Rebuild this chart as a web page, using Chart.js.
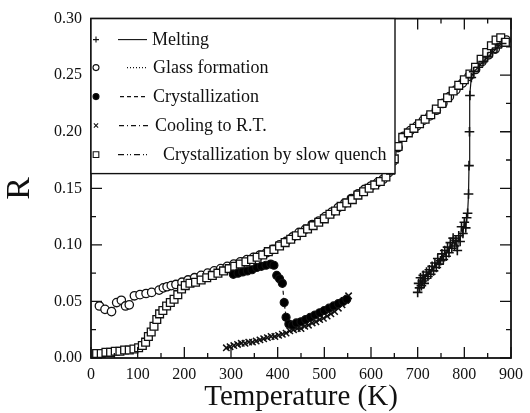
<!DOCTYPE html>
<html>
<head>
<meta charset="utf-8">
<script src="https://cdn.jsdelivr.net/npm/chart.js@4/dist/chart.umd.min.js"></script>
<style>
  html, body { margin: 0; padding: 0; background: #fff; }
  #c { display: block; }
</style>
</head>
<body>
<canvas id="c" width="530" height="413"></canvas>
<script>
// Axis tick labels
const xTickLabels = [0, 100, 200, 300, 400, 500, 600, 700, 800, 900];
const yTickLabels = [0.00, 0.05, 0.10, 0.15, 0.20, 0.25, 0.30];

// Series names (legend order)
const seriesNames = ['Melting', 'Glass formation', 'Crystallization', 'Cooling to R.T.', 'Crystallization by slow quench'];

// Melting (+)
const meltT = [700, 702, 704, 706, 708, 710, 712, 714, 716, 719,
               722, 725, 728, 731, 734, 737, 740, 743, 746, 749,
               752, 755, 758, 761, 764, 767, 770, 773, 776, 779,
               782, 785, 788, 791, 794, 797, 800, 803, 805, 807,
               809, 810, 811, 812, 815, 820, 830, 840, 850, 860,
               870, 880];
const meltR = [0.058, 0.066, 0.062, 0.071, 0.064, 0.068, 0.073, 0.066, 0.070, 0.076,
               0.072, 0.078, 0.074, 0.081, 0.077, 0.084, 0.080, 0.088, 0.083, 0.086,
               0.092, 0.087, 0.095, 0.090, 0.098, 0.093, 0.102, 0.097, 0.106, 0.099,
               0.104, 0.095, 0.108, 0.103, 0.116, 0.110, 0.120, 0.115, 0.124, 0.128,
               0.145, 0.170, 0.200, 0.232, 0.248, 0.253, 0.257, 0.262, 0.266, 0.270,
               0.274, 0.278];

// Glass formation (open circles)
const glassT = [18, 30, 44, 55, 65, 74, 82, 93, 105, 118,
                130, 146, 155, 163, 172, 182, 195, 208, 222, 236,
                250, 264, 278, 292, 306, 320, 334, 348, 362, 376,
                390, 404, 418, 432, 446, 460, 474, 488, 502, 516,
                530, 544, 558, 572, 586, 600, 614, 626, 638, 648,
                658, 670, 684, 698, 712, 726, 740, 754, 768, 782,
                796, 810, 824, 838, 852, 866, 880, 890];
const glassR = [0.046, 0.043, 0.041, 0.049, 0.051, 0.046, 0.047, 0.055, 0.056, 0.057,
                0.058, 0.060, 0.062, 0.063, 0.064, 0.065, 0.067, 0.069, 0.071, 0.073,
                0.075, 0.077, 0.079, 0.081, 0.083, 0.085, 0.087, 0.089, 0.091, 0.093,
                0.096, 0.100, 0.103, 0.107, 0.111, 0.114, 0.118, 0.121, 0.125, 0.129,
                0.133, 0.137, 0.141, 0.145, 0.149, 0.152, 0.155, 0.158, 0.164, 0.174,
                0.186, 0.196, 0.201, 0.205, 0.210, 0.214, 0.219, 0.225, 0.231, 0.237,
                0.243, 0.249, 0.255, 0.262, 0.268, 0.273, 0.279, 0.281];

// Crystallization (filled circles)
const crystT = [305, 315, 325, 335, 345, 355, 365, 375, 385, 392,
                398, 404, 410, 414, 418, 424, 432, 440, 450, 460,
                470, 480, 490, 500, 510, 520, 530, 540, 548];
const crystR = [0.074, 0.075, 0.076, 0.077, 0.078, 0.080, 0.081, 0.082, 0.083, 0.082,
                0.073, 0.070, 0.066, 0.049, 0.036, 0.030, 0.029, 0.031, 0.032, 0.034,
                0.036, 0.038, 0.040, 0.042, 0.044, 0.046, 0.048, 0.050, 0.052];

// Cooling to R.T. (x)
const coolT = [290, 298, 306, 314, 322, 330, 338, 346, 354, 362,
               370, 378, 386, 394, 402, 410, 418, 426, 434, 442,
               450, 458, 466, 474, 482, 490, 498, 506, 514, 522,
               530, 538, 546, 552];
const coolR = [0.009, 0.010, 0.011, 0.012, 0.013, 0.013, 0.014, 0.014, 0.015, 0.016,
               0.017, 0.018, 0.019, 0.019, 0.020, 0.021, 0.022, 0.024, 0.025, 0.026,
               0.026, 0.028, 0.029, 0.031, 0.032, 0.034, 0.035, 0.037, 0.039, 0.041,
               0.044, 0.047, 0.051, 0.055];

// Crystallization by slow quench (open squares)
const quenchT = [12, 22, 32, 42, 52, 62, 72, 82, 92, 102,
                 110, 117, 123, 129, 135, 141, 147, 154, 162, 170,
                 178, 186, 194, 202, 212, 224, 236, 248, 260, 272,
                 284, 296, 308, 320, 332, 344, 356, 368, 380, 392,
                 404, 416, 428, 440, 452, 464, 476, 488, 500, 512,
                 524, 536, 548, 560, 572, 584, 596, 608, 620, 632,
                 642, 650, 658, 668, 680, 692, 704, 716, 728, 740,
                 752, 764, 776, 788, 800, 812, 824, 836, 848, 858,
                 868, 878, 888];
const quenchR = [0.004, 0.004, 0.005, 0.005, 0.006, 0.006, 0.007, 0.007, 0.008, 0.009,
                 0.011, 0.014, 0.019, 0.023, 0.028, 0.034, 0.039, 0.042, 0.046, 0.049,
                 0.052, 0.056, 0.061, 0.064, 0.066, 0.067, 0.069, 0.071, 0.073, 0.075,
                 0.077, 0.079, 0.081, 0.083, 0.085, 0.087, 0.089, 0.091, 0.094, 0.096,
                 0.099, 0.102, 0.105, 0.108, 0.111, 0.114, 0.117, 0.120, 0.123, 0.127,
                 0.130, 0.134, 0.137, 0.140, 0.144, 0.147, 0.150, 0.153, 0.156, 0.160,
                 0.166, 0.176, 0.187, 0.195, 0.199, 0.203, 0.207, 0.211, 0.215, 0.220,
                 0.225, 0.230, 0.236, 0.241, 0.246, 0.251, 0.257, 0.264, 0.270, 0.276,
                 0.281, 0.283, 0.279];

const SERIF = '"Liberation Serif", "DejaVu Serif", serif';
const pairs = (xs, ys) => xs.map((x, i) => ({ x: x, y: ys[i] }));

// Per-series look: marker, fill, dash pattern
const styles = [
  { point: 'cross',    radius: 4.8, fill: '#000', dash: [],                 bw: 1.6 },
  { point: 'circle',   radius: 4.2, fill: '#fff', dash: [1, 2],             bw: 1.3 },
  { point: 'circle',   radius: 4.0, fill: '#000', dash: [4, 3],             bw: 1.2 },
  { point: 'crossRot', radius: 4.5, fill: '#000', dash: [5, 3, 1, 3],       bw: 1.5 },
  { point: 'rect',     radius: 5.5, fill: '#fff', dash: [6, 3, 1, 2, 1, 3], bw: 1.3 }
];
const seriesData = [
  pairs(meltT, meltR),
  pairs(glassT, glassR),
  pairs(crystT, crystR),
  pairs(coolT, coolR),
  pairs(quenchT, quenchR)
];
const drawOrder = [0, 4, 1, 2, 3];

const datasets = seriesData.map((d, i) => ({
  label: seriesNames[i],
  data: d,
  order: drawOrder[i],
  showLine: true,
  borderColor: '#111',
  borderWidth: 1.2,
  borderDash: styles[i].dash,
  pointStyle: styles[i].point,
  pointRadius: styles[i].radius,
  pointBorderWidth: styles[i].bw,
  pointBackgroundColor: styles[i].fill,
  pointBorderColor: '#111',
  fill: false,
  tension: 0
}));

// Frame and inward tick marks on all four sides
const framePlugin = {
  id: 'frame',
  afterDatasetsDraw(chart) {
    const { ctx, chartArea: a, scales: { x, y } } = chart;
    ctx.save();
    ctx.strokeStyle = '#111';
    ctx.lineWidth = 1.3;
    ctx.beginPath();
    for (let i = 0; i < xTickLabels.length; i++) {
      const v = xTickLabels[i];
      const px = x.getPixelForValue(v);
      ctx.moveTo(px, a.bottom); ctx.lineTo(px, a.bottom - 11);
      ctx.moveTo(px, a.top); ctx.lineTo(px, a.top + 11);
      if (i < xTickLabels.length - 1) {
        const pm = x.getPixelForValue((v + xTickLabels[i + 1]) / 2);
        ctx.moveTo(pm, a.bottom); ctx.lineTo(pm, a.bottom - 5);
        ctx.moveTo(pm, a.top); ctx.lineTo(pm, a.top + 5);
      }
    }
    for (let i = 0; i < yTickLabels.length; i++) {
      const v = yTickLabels[i];
      const py = y.getPixelForValue(v);
      ctx.moveTo(a.left, py); ctx.lineTo(a.left + 11, py);
      ctx.moveTo(a.right, py); ctx.lineTo(a.right - 11, py);
      if (i < yTickLabels.length - 1) {
        const pm = y.getPixelForValue((v + yTickLabels[i + 1]) / 2);
        ctx.moveTo(a.left, pm); ctx.lineTo(a.left + 5, pm);
        ctx.moveTo(a.right, pm); ctx.lineTo(a.right - 5, pm);
      }
    }
    ctx.stroke();
    ctx.lineWidth = 1.8;
    ctx.strokeRect(a.left, a.top, a.right - a.left, a.bottom - a.top);
    ctx.restore();
  }
};

// Boxed key in the upper-left corner of the plot
const keyPlugin = {
  id: 'key',
  afterDatasetsDraw(chart) {
    const { ctx, chartArea: a } = chart;
    const left = a.left, top = a.top, w = 304, h = 155;
    ctx.save();
    ctx.fillStyle = '#fff';
    ctx.fillRect(left, top, w, h);
    ctx.strokeStyle = '#111';
    ctx.lineWidth = 1.4;
    ctx.strokeRect(left, top, w, h);
    const rows = [21, 49, 78, 107, 136];
    const lineSpan = [[27, 56], [36, 57], [29, 57], [28, 59], [27, 59]];
    const textX = [61, 62, 62, 64, 72];
    ctx.font = '18px ' + SERIF;
    ctx.textBaseline = 'middle';
    ctx.textAlign = 'left';
    for (let i = 0; i < seriesNames.length; i++) {
      const yy = top + rows[i];
      const st = styles[i];
      ctx.fillStyle = st.fill;
      ctx.strokeStyle = '#111';
      ctx.lineWidth = 1.1;
      Chart.helpers.drawPoint(ctx, { pointStyle: st.point, radius: st.point === 'rect' ? 4 : 3, rotation: 0, borderWidth: 1.1 }, left + 5, yy);
      ctx.beginPath();
      ctx.setLineDash(st.dash);
      ctx.lineWidth = 1.1;
      ctx.moveTo(left + lineSpan[i][0], yy);
      ctx.lineTo(left + lineSpan[i][1], yy);
      ctx.stroke();
      ctx.setLineDash([]);
      ctx.fillStyle = '#111';
      ctx.fillText(seriesNames[i], left + textX[i], yy + 1);
    }
    ctx.restore();
  }
};

new Chart(document.getElementById('c'), {
  type: 'scatter',
  data: { datasets: datasets },
  options: {
    responsive: false,
    animation: false,
    devicePixelRatio: 1,
    layout: { padding: { top: 16, right: 13, left: 0, bottom: 0 } },
    plugins: { legend: { display: false }, tooltip: { enabled: false } },
    scales: {
      x: {
        type: 'linear',
        min: 0, max: 900,
        afterFit(s) { s.height = 55; },
        grid: { display: false, drawTicks: false },
        border: { display: false },
        afterBuildTicks(s) { s.ticks = xTickLabels.map(v => ({ value: v })); },
        ticks: { color: '#111', padding: 7, font: { family: SERIF, size: 16 }, maxRotation: 0, autoSkip: false },
        title: { display: true, text: 'Temperature (K)', color: '#111', font: { family: SERIF, size: 29, lineHeight: 1 }, padding: { top: 0, bottom: 1.5 } }
      },
      y: {
        type: 'linear',
        min: 0, max: 0.30,
        afterFit(s) { s.width = 91; },
        grid: { display: false, drawTicks: false },
        border: { display: false },
        afterBuildTicks(s) { s.ticks = yTickLabels.map(v => ({ value: v })); },
        ticks: { color: '#111', padding: 9, font: { family: SERIF, size: 16 }, autoSkip: false, callback: v => Number(v).toFixed(2) },
        title: { display: true, text: 'R', color: '#111', font: { family: SERIF, size: 34, lineHeight: 1 }, padding: { top: 3, bottom: 0 } }
      }
    }
  },
  plugins: [framePlugin, keyPlugin]
});
</script>
</body>
</html>
